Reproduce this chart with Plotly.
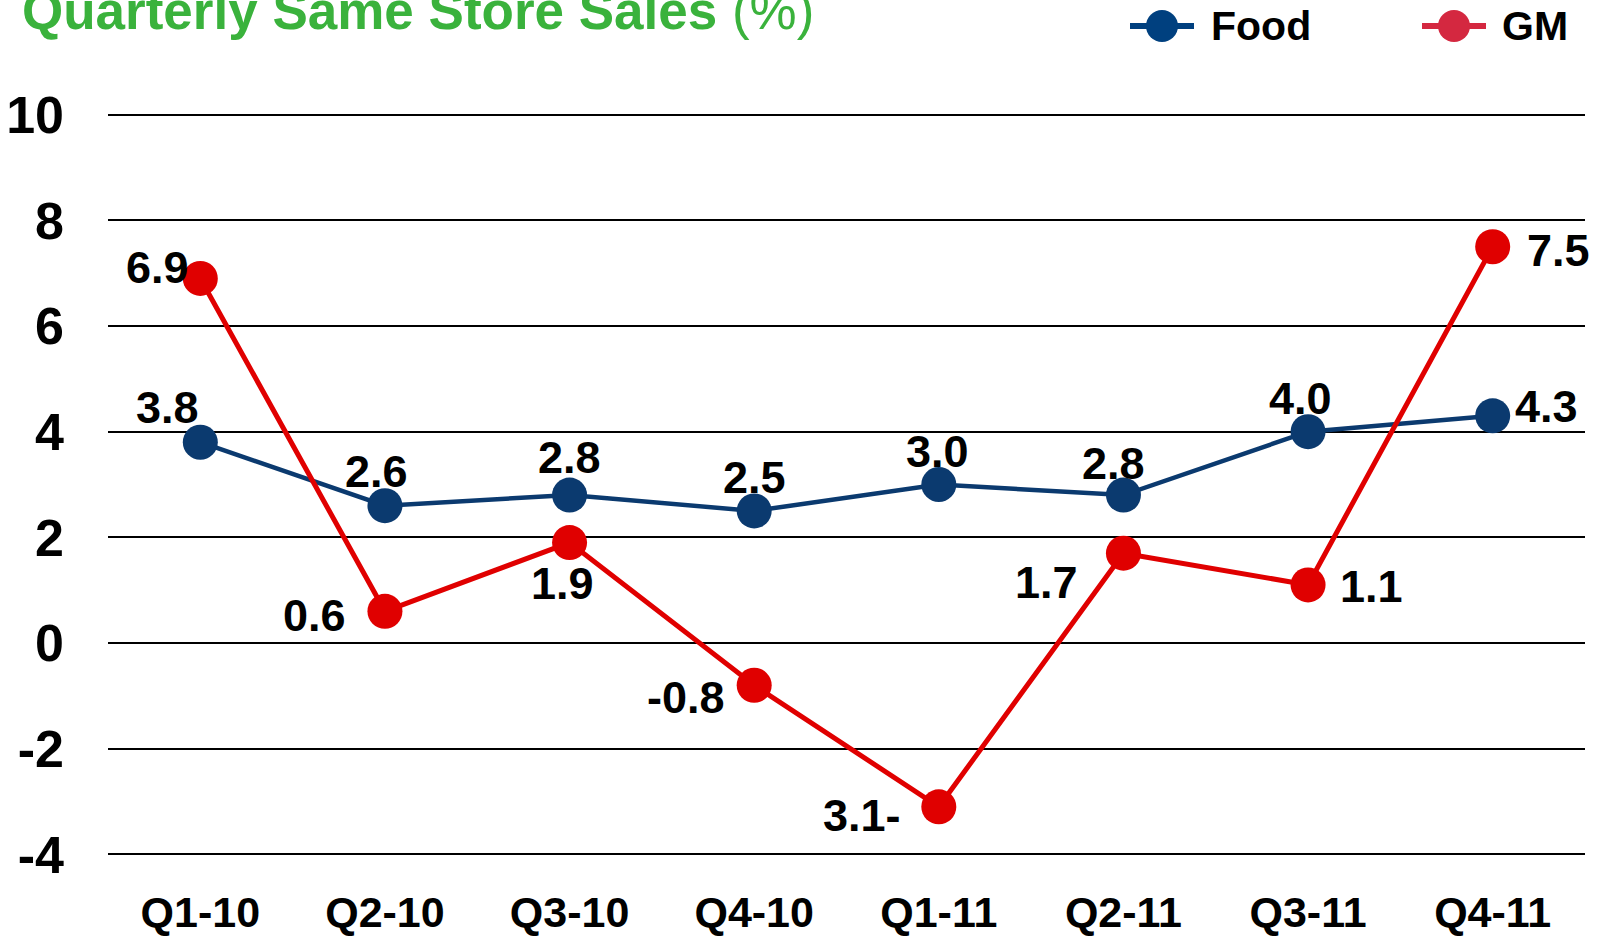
import plotly.graph_objects as go

quarters = ["Q1-10", "Q2-10", "Q3-10", "Q4-10", "Q1-11", "Q2-11", "Q3-11", "Q4-11"]
food = [3.8, 2.6, 2.8, 2.5, 3.0, 2.8, 4.0, 4.3]
gm = [6.9, 0.6, 1.9, -0.8, -3.1, 1.7, 1.1, 7.5]
food_labels = ["3.8", "2.6", "2.8", "2.5", "3.0", "2.8", "4.0", "4.3"]
gm_labels = ["6.9", "0.6", "1.9", "-0.8", "3.1-", "1.7", "1.1", "7.5"]
y_ticks = [-4, -2, 0, 2, 4, 6, 8, 10]
y_ticktext = ["-4", "-2", "0", "2", "4", "6", "8", "10"]

# label offsets from the point, in pixels (x right, y up)
food_off = [(-33, 35), (-8, 34), (0, 38), (0, 33), (-1, 33), (-10, 32), (-8, 33), (54, 9)]
gm_off = [(-43, 11), (-70, -4), (-7, -41), (-68, -12), (-77, -9), (-77, -29), (63, -2), (66, -4)]

FONT = "Liberation Sans, Arial, sans-serif"
NAVY = "#0B3A6F"
RED = "#E00000"

# plot area in pixels (used to place the hand-made legend / title)
L, R, T, B = 108, 27, 112, 80
W, H = 1612, 937
PW, PH = W - L - R, H - T - B


def px_x(p):
    return (p - L) / PW


def px_y(p):
    return (H - B - p) / PH


fig = go.Figure()

fig.add_trace(go.Scatter(
    x=quarters, y=food, name="Food", mode="lines+markers",
    line=dict(color=NAVY, width=4.5),
    marker=dict(color=NAVY, size=35),
))

fig.add_trace(go.Scatter(
    x=quarters, y=gm, name="GM", mode="lines+markers",
    line=dict(color=RED, width=5),
    marker=dict(color=RED, size=35),
))

# data labels
for vals, labels, offs in [(food, food_labels, food_off), (gm, gm_labels, gm_off)]:
    for q, v, lbl, (dx, dy) in zip(quarters, vals, labels, offs):
        fig.add_annotation(x=q, y=v, text=lbl, showarrow=False,
                           xshift=dx, yshift=dy,
                           font=dict(family=FONT, size=45, color="black", weight="bold"))

# legend drawn by hand: plotly caps legend marker size
legend_items = [("Food", "#00407F", 1130, 1194, 1162, 1209),
                ("GM", "#D42840", 1422, 1486, 1454, 1500)]
for name, col, lx0, lx1, cx, tx in legend_items:
    fig.add_shape(type="line", xref="paper", yref="paper",
                  x0=px_x(lx0), x1=px_x(lx1), y0=px_y(26), y1=px_y(26),
                  line=dict(color=col, width=6))
    fig.add_shape(type="circle", xref="paper", yref="paper",
                  xsizemode="pixel", ysizemode="pixel",
                  xanchor=px_x(cx), yanchor=px_y(26),
                  x0=-16, x1=16, y0=-16, y1=16,
                  fillcolor=col, line=dict(color=col, width=0))
    fig.add_annotation(text=name, xref="paper", yref="paper",
                       x=px_x(tx), y=px_y(26), xanchor="left", yanchor="middle",
                       showarrow=False,
                       font=dict(family=FONT, size=41, color="black", weight="bold"))

fig.add_annotation(
    text="<b>Quarterly Same Store Sales</b> (%)",
    xref="paper", yref="paper", x=px_x(20), y=px_y(42),
    xanchor="left", yanchor="bottom", showarrow=False,
    font=dict(family=FONT, size=53, color="#3AB23C"),
)

fig.update_layout(
    width=W, height=H,
    plot_bgcolor="white", paper_bgcolor="white",
    margin=dict(l=L, r=R, t=T, b=B),
    font=dict(family=FONT, color="black"),
    showlegend=False,
)

fig.update_xaxes(
    range=[-0.5, 7.5], showgrid=False, showline=False, zeroline=False,
    tickfont=dict(family=FONT, size=43, color="black", weight="bold"),
    ticklabelstandoff=26, automargin=False,
)

fig.update_yaxes(
    range=[-4.05, 10.05], tickvals=y_ticks, ticktext=y_ticktext,
    showgrid=True, gridcolor="black", gridwidth=2,
    zeroline=True, zerolinecolor="black", zerolinewidth=2, showline=False,
    tickfont=dict(family=FONT, size=52, color="black", weight="bold"),
    ticklabelstandoff=43, automargin=False,
)

# the page body has a default 8px margin; drop it so the figure sits at 0,0
fig.write_html("out.html", config={"displayModeBar": False},
               post_script="document.body.style.margin='0';")
